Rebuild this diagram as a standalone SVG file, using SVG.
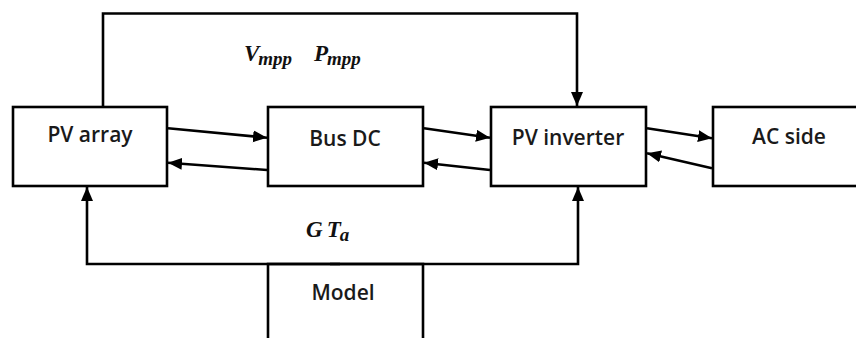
<svg xmlns="http://www.w3.org/2000/svg" width="856" height="338" viewBox="0 0 856 338">
  <defs>
    <style>
      .box { fill: #fff; stroke: #000; stroke-width: 2.6; }
      .lbl { font-family: "Open Sans", "Liberation Sans", sans-serif; font-size: 21px; font-weight: 600; fill: #1a1a1a; text-anchor: middle; }
      .math { font-family: "Liberation Serif", "DejaVu Serif", serif; font-style: italic; font-weight: bold; fill: #111; }
      .var { font-size: 23px; }
      .sub { font-size: 19px; }
      .wire { fill: none; stroke: #000; stroke-width: 2.6; marker-end: url(#arr); }
    </style>
    <marker id="arr" markerUnits="userSpaceOnUse" markerWidth="15" markerHeight="13" refX="14" refY="6" orient="auto">
      <path d="M0,0 L14,6 L0,12 z" fill="#000"/>
    </marker>
  </defs>
  <rect width="856" height="338" fill="#fff"/>

  <g id="pv-array">
    <rect class="box" x="13" y="107" width="154" height="79"/>
    <text class="lbl" x="90" y="142">PV array</text>
  </g>
  <g id="bus-dc">
    <rect class="box" x="268" y="107" width="155" height="79"/>
    <text class="lbl" x="345" y="146">Bus DC</text>
  </g>
  <g id="pv-inverter">
    <rect class="box" x="491" y="107" width="155" height="79"/>
    <text class="lbl" x="568" y="145">PV inverter</text>
  </g>
  <g id="ac-side">
    <rect class="box" x="713" y="107" width="160" height="79"/>
    <text class="lbl" x="789" y="144">AC side</text>
  </g>
  <g id="model">
    <rect class="box" x="268" y="264" width="155" height="90"/>
    <text class="lbl" x="343" y="300">Model</text>
  </g>

  <g id="connectors">
    <path class="wire" d="M103,107 V13.5 H577 V106"/>
    <path class="wire" d="M168,128.3 L267,137.7"/>
    <path class="wire" d="M267,170 L168,162.7"/>
    <path class="wire" d="M424,128.3 L490,137.7"/>
    <path class="wire" d="M490,170 L424,162.7"/>
    <path class="wire" d="M647,128.3 L712,138.3"/>
    <path class="wire" d="M712,168.3 L647,153.3"/>
    <path class="wire" d="M340,264 H87 V187"/>
    <path class="wire" d="M330,264 H578 V187"/>
  </g>

  <g id="labels">
    <text class="math" x="244" y="61"><tspan class="var">V</tspan><tspan class="sub" dy="4" dx="-1">mpp</tspan></text>
    <text class="math" x="314" y="61"><tspan class="var">P</tspan><tspan class="sub" dy="4" dx="-1">mpp</tspan></text>
    <text class="math" x="306" y="237"><tspan class="var">G</tspan><tspan class="var" dx="4">T</tspan><tspan class="sub" dy="4" dx="-1">a</tspan></text>
  </g>
</svg>
